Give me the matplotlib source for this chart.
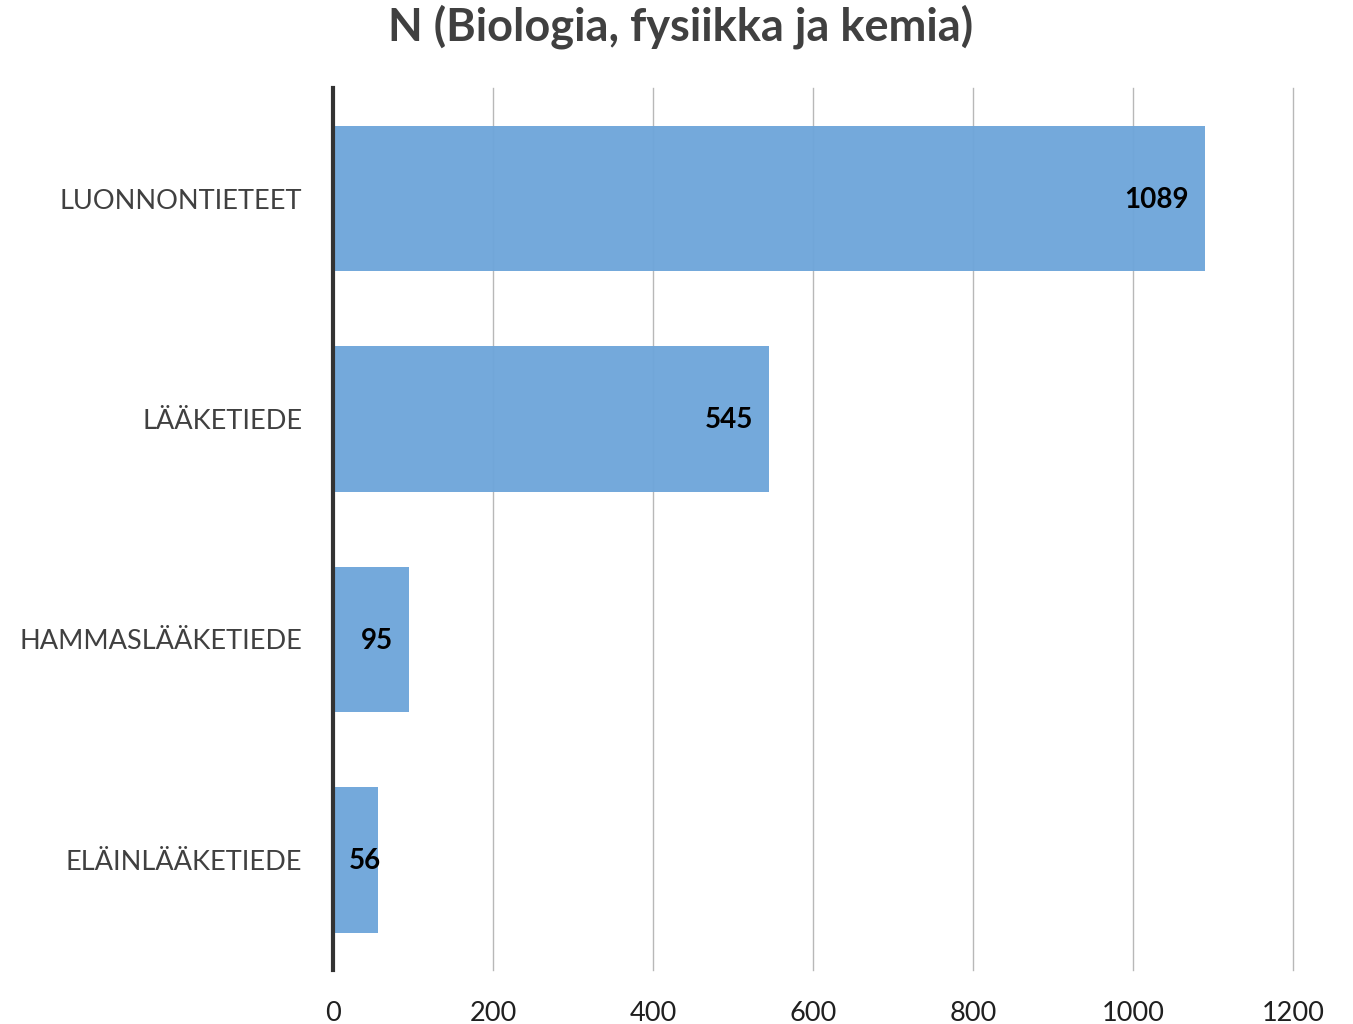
import matplotlib
matplotlib.use("Agg")
import matplotlib.pyplot as plt

categories = ["LUONNONTIETEET", "LÄÄKETIEDE", "HAMMASLÄÄKETIEDE", "ELÄINLÄÄKETIEDE"]
values = [1089, 545, 95, 56]
x_ticks = [0, 200, 400, 600, 800, 1000, 1200]

plt.rcParams["font.family"] = ["Lato", "DejaVu Sans"]

fig = plt.figure(figsize=(13.53, 10.24), dpi=100)
ax = fig.add_axes([0.246, 0.0527, 0.71, 0.861])

pos = list(range(len(categories)))
ax.barh(pos, values, height=0.66, color="#6fa6da", alpha=0.97, zorder=2)
ax.set_ylim(len(categories) - 0.5, -0.5)
ax.set_xlim(0, 1200)

ax.set_yticks(pos)
ax.set_yticklabels(categories, fontsize=19.5, color="#404040")
ax.set_xticks(x_ticks)
ax.set_xticklabels([str(t) for t in x_ticks], fontsize=19.5, color="#202020")
ax.tick_params(axis="both", length=0)
ax.tick_params(axis="y", pad=22)
ax.tick_params(axis="x", pad=22)

ax.grid(axis="x", color="#b8b8b8", linewidth=1, zorder=0)
for gl in ax.get_xgridlines():
    gl.set_clip_on(False)
for s in ["top", "right", "bottom"]:
    ax.spines[s].set_visible(False)
ax.spines["left"].set_linewidth(3)
ax.spines["left"].set_color("#333333")
ax.spines["left"].set_zorder(4)

# data labels inside the bar end, kept clear of the axis for short bars
fig.canvas.draw()
renderer = fig.canvas.get_renderer()
x0_px = ax.transData.transform((0, 0))[0]
for p, v in zip(pos, values):
    t = ax.annotate(str(v), xy=(v, p), xytext=(-11.5, -1), textcoords="offset points",
                    ha="right", va="center", fontsize=20, fontweight="bold",
                    color="black", zorder=5)
    bb = t.get_window_extent(renderer)
    if bb.x0 < x0_px + 16:
        t.remove()
        ax.annotate(str(v), xy=(0, p), xytext=(11.5, -1), textcoords="offset points",
                    ha="left", va="center", fontsize=20, fontweight="bold",
                    color="black", zorder=5)

fig.suptitle("N (Biologia, fysiikka ja kemia)", x=0.503, y=0.996, fontsize=32.5,
             fontweight="bold", color="#404040")

fig.savefig("out.png", dpi=100)
